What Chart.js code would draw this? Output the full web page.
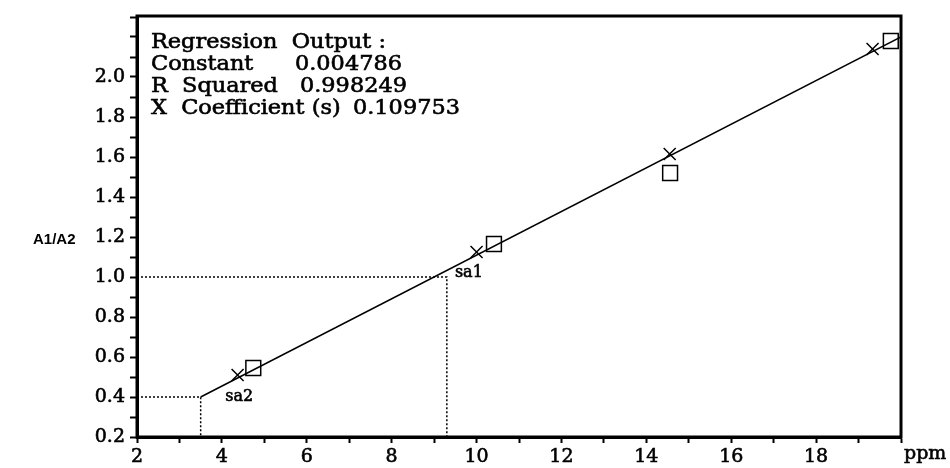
<!DOCTYPE html>
<html>
<head>
<meta charset="utf-8">
<script src="https://cdn.jsdelivr.net/npm/chart.js@4.4.1/dist/chart.umd.min.js"></script>
<style>
html,body{margin:0;padding:0;background:#fff;}
</style>
</head>
<body>
<canvas id="c" width="950" height="468"></canvas>
<script>
// values
const crossX = [4.37, 10.0, 14.55, 19.33];
const crossY = [0.51, 1.125, 1.615, 2.14];
const squareX = [4.74, 10.41, 14.56, 19.76];
const squareY = [0.545, 1.165, 1.52, 2.18];
const fitX = [3.5, 20];
const fitY = [0.4, 2.2];
const sampleNames = ['sa1', 'sa2'];
const sampleX = [9.3, 3.5];
const sampleY = [1.0, 0.4];
const sampleLabelX = [9.49, 4.08];
const sampleLabelY = [1.02, 0.40];
const xTickLabels = ['2','4','6','8','10','12','14','16','18'];
const yTickLabels = ['0.2','0.4','0.6','0.8','1.0','1.2','1.4','1.6','1.8','2.0'];
const regLabels = ['Regression  Output :', 'Constant', 'R  Squared', 'X  Coefficient (s)'];
const regValues = ['', '0.004786', '0.998249', '0.109753'];

const serif = 'DejaVu Serif';
const xy = (xs, ys) => xs.map((x, i) => ({x: x, y: ys[i]}));

// dotted read-off lines for each sample
const guides = sampleNames.map((n, i) => ({
  label: n,
  type: 'line',
  data: [{x: 2, y: sampleY[i]}, {x: sampleX[i], y: sampleY[i]}, {x: sampleX[i], y: 0.2}],
  borderColor: '#000',
  borderWidth: 1.5,
  borderDash: [2, 2],
  pointRadius: 0,
  fill: false
}));

// fill + thin stroke gives the semi-bold look of the scan
function heavyText(ctx, t, x, y) {
  ctx.fillText(t, x, y);
  ctx.strokeText(t, x, y);
}

const extras = {
  id: 'extras',
  afterDraw(chart) {
    const ctx = chart.ctx;
    const a = chart.chartArea;
    const sx = chart.scales.x, sy = chart.scales.y;
    ctx.save();
    ctx.strokeStyle = '#000';
    ctx.lineWidth = 3;
    ctx.strokeRect(a.left, a.top - 1, a.right - a.left, a.bottom - a.top + 1);

    ctx.fillStyle = '#000';
    ctx.lineWidth = 0.6;
    ctx.textBaseline = 'middle';
    ctx.textAlign = 'left';

    // regression box, stretched a bit wider like the original typeface
    const stretch = 1.12;
    ctx.save();
    ctx.scale(stretch, 1);
    ctx.font = '20px "' + serif + '"';
    const valueOffset = [0, 144, 149, 202];
    regLabels.forEach((t, i) => {
      const y = a.top + 26 + i * 22;
      heavyText(ctx, t, (a.left + 14) / stretch, y);
      if (regValues[i]) heavyText(ctx, regValues[i], (a.left + 14 + valueOffset[i]) / stretch, y);
    });
    ctx.restore();

    ctx.font = '16px "' + serif + '"';
    sampleNames.forEach((n, i) => {
      heavyText(ctx, n, sx.getPixelForValue(sampleLabelX[i]), sy.getPixelForValue(sampleLabelY[i]));
    });

    ctx.font = 'bold 15px "Liberation Sans"';
    ctx.fillText('A1/A2', 33, (a.top + a.bottom) / 2 + 13);
    ctx.font = '19px "' + serif + '"';
    heavyText(ctx, 'ppm', a.right + 3, a.bottom + 17);
    ctx.restore();
  }
};

new Chart(document.getElementById('c'), {
  type: 'scatter',
  data: {
    datasets: [
      {
        label: 'fit',
        type: 'line',
        data: xy(fitX, fitY),
        borderColor: '#000',
        borderWidth: 1.5,
        pointRadius: 0,
        fill: false
      },
      ...guides,
      {
        label: 'cross',
        data: xy(crossX, crossY),
        pointStyle: 'crossRot',
        pointRadius: 8.5,
        borderColor: '#000',
        borderWidth: 1.5
      },
      {
        label: 'square',
        data: xy(squareX, squareY),
        pointStyle: 'rect',
        pointRadius: 10.5,
        backgroundColor: 'rgba(0,0,0,0)',
        borderColor: '#000',
        borderWidth: 1.5
      }
    ]
  },
  options: {
    responsive: false,
    animation: false,
    devicePixelRatio: 1,
    layout: {padding: {left: 0, right: 49, top: 17, bottom: 0}},
    plugins: {legend: {display: false}, tooltip: {enabled: false}},
    scales: {
      x: {
        type: 'linear',
        min: 2,
        max: 20,
        afterFit: s => { s.height = 31; },
        border: {color: '#000', width: 3},
        grid: {drawOnChartArea: false, tickLength: 6, tickWidth: 2, tickColor: '#000'},
        ticks: {
          stepSize: 1,
          autoSkip: false,
          maxRotation: 0,
          padding: 3,
          color: '#000',
          textStrokeColor: '#000',
          textStrokeWidth: 0.6,
          font: {family: serif, size: 19},
          callback: v => xTickLabels.includes(String(v)) ? String(v) : ''
        }
      },
      y: {
        min: 0.2,
        max: 2.3,
        afterFit: s => { s.width = 137; },
        border: {color: '#000', width: 3},
        grid: {drawOnChartArea: false, tickLength: 7, tickWidth: 2, tickColor: '#000'},
        ticks: {
          stepSize: 0.1,
          autoSkip: false,
          padding: 5,
          color: '#000',
          textStrokeColor: '#000',
          textStrokeWidth: 0.6,
          font: {family: serif, size: 19},
          callback: v => {
            const t = (Math.round(v * 10) / 10).toFixed(1);
            return yTickLabels.includes(t) ? t : '';
          }
        }
      }
    }
  },
  plugins: [extras]
});
</script>
</body>
</html>
